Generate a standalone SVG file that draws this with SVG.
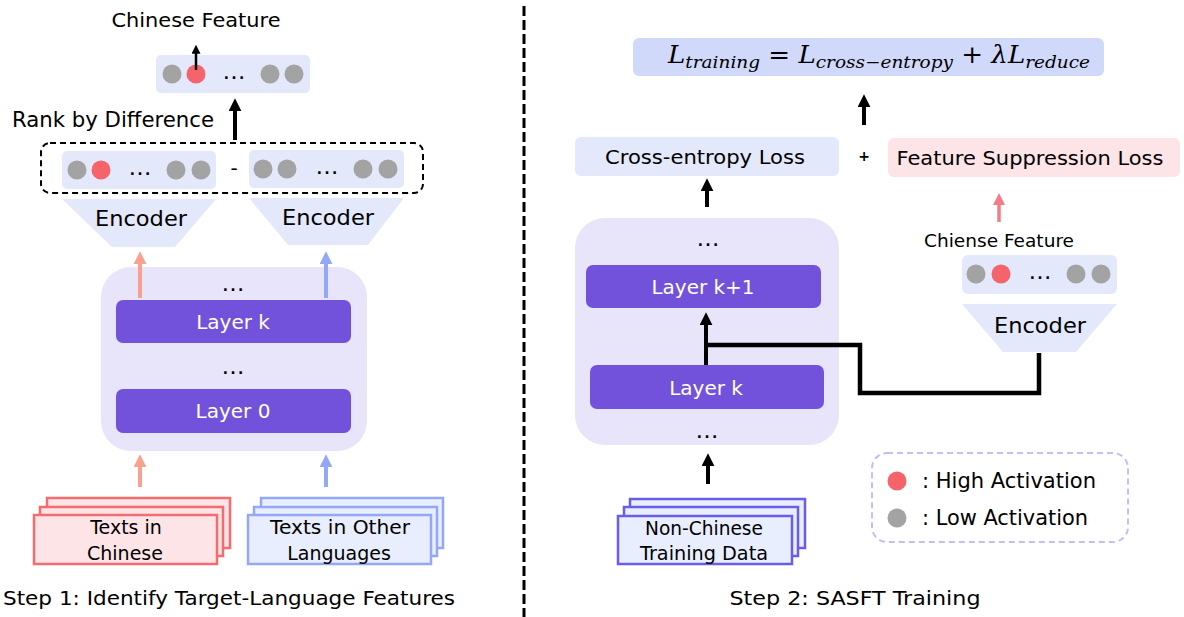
<svg xmlns="http://www.w3.org/2000/svg" width="1184" height="617" viewBox="0 0 1184 617">
<defs>
<style>
.t{font-family:"DejaVu Sans","Liberation Sans",sans-serif;fill:#000;text-anchor:middle;dominant-baseline:central}
.w{fill:#fff}
.feat{fill:#E3E8FB}
.layer{fill:#7352DB}
.cont{fill:#E8E4FA}
.g{fill:#A3A3A3}
.r{fill:#F5636B}
.docR{fill:#FDE4E6;stroke:#F26C70;stroke-width:2.5}
.docB{fill:#E8EEFD;stroke:#93A9F7;stroke-width:2.5}
.docV{fill:#E8EEFD;stroke:#6A5EE8;stroke-width:2.5}
.ab{stroke:#000;stroke-width:4;fill:none}
</style>
<marker id="mk" viewBox="0 0 12 12" refX="2" refY="6" markerWidth="13" markerHeight="13" markerUnits="userSpaceOnUse" orient="auto"><path d="M0,0 L12,6 L0,12 z" fill="#000"/></marker>
<marker id="mks" viewBox="0 0 10 10" refX="2" refY="5" markerWidth="9" markerHeight="9" markerUnits="userSpaceOnUse" orient="auto"><path d="M0,0 L10,5 L0,10 z" fill="#000"/></marker>
<marker id="mkr" viewBox="0 0 12 12" refX="2" refY="6" markerWidth="13" markerHeight="13" markerUnits="userSpaceOnUse" orient="auto"><path d="M0,0 L12,6 L0,12 z" fill="#F9A190"/></marker>
<marker id="mkb" viewBox="0 0 12 12" refX="2" refY="6" markerWidth="13" markerHeight="13" markerUnits="userSpaceOnUse" orient="auto"><path d="M0,0 L12,6 L0,12 z" fill="#93A9F7"/></marker>
<marker id="mkp" viewBox="0 0 12 12" refX="2" refY="6" markerWidth="12" markerHeight="12" markerUnits="userSpaceOnUse" orient="auto"><path d="M0,0 L12,6 L0,12 z" fill="#F47C84"/></marker>
</defs>
<rect width="1184" height="617" fill="#fff"/>

<!-- divider -->
<line x1="524" y1="6" x2="524" y2="617" stroke="#000" stroke-width="3" stroke-dasharray="10 4"/>

<!-- LEFT: Step 1 -->
<text class="t" x="196" y="20" font-size="19" textLength="169" lengthAdjust="spacingAndGlyphs">Chinese Feature</text>

<g id="feat-top">
<rect class="feat" x="156" y="55" width="154" height="38" rx="5"/>
<circle class="g" cx="172" cy="74" r="9.5"/>
<circle class="r" cx="196" cy="74" r="9.5"/>
<text class="t" x="234" y="71" font-size="23">…</text>
<circle class="g" cx="270" cy="74" r="9.5"/>
<circle class="g" cx="294" cy="74" r="9.5"/>
</g>

<text class="t" x="113" y="120" font-size="21" textLength="202" lengthAdjust="spacingAndGlyphs">Rank by Difference</text>

<g id="diff-group">
<rect x="41" y="143" width="382" height="50" rx="9" fill="none" stroke="#000" stroke-width="2" stroke-dasharray="6 4"/>
<rect class="feat" x="62" y="151" width="154" height="38" rx="5"/>
<circle class="g" cx="77" cy="170" r="9.5"/>
<circle class="r" cx="101" cy="170" r="9.5"/>
<text class="t" x="140" y="167" font-size="23">…</text>
<circle class="g" cx="176" cy="170" r="9.5"/>
<circle class="g" cx="201" cy="170" r="9.5"/>
<text class="t" x="234" y="168" font-size="20">-</text>
<rect class="feat" x="249" y="150" width="155" height="38" rx="5"/>
<circle class="g" cx="263" cy="169" r="9.5"/>
<circle class="g" cx="287" cy="169" r="9.5"/>
<text class="t" x="327" y="166" font-size="23">…</text>
<circle class="g" cx="363" cy="169" r="9.5"/>
<circle class="g" cx="388" cy="169" r="9.5"/>
</g>

<g id="encoder-left">
<polygon class="feat" points="62,199 216,199 175,247 112,247"/>
<text class="t" x="141" y="218" font-size="22" textLength="92" lengthAdjust="spacingAndGlyphs">Encoder</text>
</g>
<g id="encoder-right">
<polygon class="feat" points="249,198 404,198 368,245 288,245"/>
<text class="t" x="328" y="217" font-size="22" textLength="92" lengthAdjust="spacingAndGlyphs">Encoder</text>
</g>

<g id="model-left">
<rect class="cont" x="101" y="267" width="266" height="184" rx="30"/>
<text class="t" x="233" y="283" font-size="23">…</text>
<rect class="layer" x="116" y="300" width="235" height="43" rx="7"/>
<text class="t w" x="233" y="322" font-size="20">Layer k</text>
<text class="t" x="233" y="366" font-size="23">…</text>
<rect class="layer" x="116" y="389" width="235" height="44" rx="7"/>
<text class="t w" x="233" y="411" font-size="20">Layer 0</text>
</g>

<g id="doc-chinese">
<rect class="docR" x="47" y="498" width="183" height="50"/>
<rect class="docR" x="40" y="507" width="183" height="49"/>
<rect class="docR" x="34" y="515" width="183" height="49"/>
<text class="t" x="126" y="527" font-size="19">Texts in</text>
<text class="t" x="125" y="553" font-size="19">Chinese</text>
</g>
<g id="doc-other">
<rect class="docB" x="261" y="498" width="182" height="50"/>
<rect class="docB" x="254" y="507" width="183" height="49"/>
<rect class="docB" x="248" y="515" width="183" height="49"/>
<text class="t" x="340" y="527" font-size="19" textLength="140" lengthAdjust="spacingAndGlyphs">Texts in Other</text>
<text class="t" x="339" y="553" font-size="19">Languages</text>
</g>

<text class="t" x="229" y="598" font-size="20" textLength="452" lengthAdjust="spacingAndGlyphs">Step 1: Identify Target-Language Features</text>

<!-- RIGHT: Step 2 -->
<g id="formula">
<rect x="633" y="38" width="471" height="38" rx="6" fill="#D0D9FA"/>
<text x="668" y="63" font-family="'DejaVu Serif','Liberation Serif',serif" font-style="italic" font-size="24" textLength="422" lengthAdjust="spacingAndGlyphs">L<tspan font-size="17" dy="5">training</tspan><tspan font-style="normal" dy="-5"> = </tspan>L<tspan font-size="17" dy="5">cross−entropy</tspan><tspan font-style="normal" dy="-5"> + </tspan>λL<tspan font-size="17" dy="5">reduce</tspan></text>
</g>

<g id="ce-loss">
<rect class="feat" x="575" y="137" width="264" height="39" rx="6"/>
<text class="t" x="705" y="157" font-size="20" textLength="200" lengthAdjust="spacingAndGlyphs">Cross-entropy Loss</text>
</g>
<text class="t" x="864" y="156" font-size="14" font-weight="bold">+</text>
<g id="fs-loss">
<rect x="888" y="138" width="292" height="39" rx="6" fill="#FDE4E6"/>
<text class="t" x="1030" y="158" font-size="20" textLength="267" lengthAdjust="spacingAndGlyphs">Feature Suppression Loss</text>
</g>

<g id="model-right">
<rect class="cont" x="575" y="218" width="264" height="227" rx="30"/>
<text class="t" x="708" y="238" font-size="23">…</text>
<rect class="layer" x="586" y="265" width="235" height="43" rx="7"/>
<text class="t w" x="703" y="287" font-size="20">Layer k+1</text>
<rect class="layer" x="590" y="365" width="234" height="44" rx="7"/>
<text class="t w" x="706" y="388" font-size="20">Layer k</text>
<text class="t" x="707" y="430" font-size="23">…</text>
</g>

<text class="t" x="999" y="240" font-size="18" textLength="150" lengthAdjust="spacingAndGlyphs">Chiense Feature</text>
<g id="feat-right">
<rect class="feat" x="962" y="255" width="155" height="39" rx="6"/>
<circle class="g" cx="976" cy="274" r="9.5"/>
<circle class="r" cx="1001" cy="274" r="9.5"/>
<text class="t" x="1040" y="271" font-size="23">…</text>
<circle class="g" cx="1076" cy="274" r="9.5"/>
<circle class="g" cx="1101" cy="274" r="9.5"/>
</g>
<g id="encoder-r">
<polygon class="feat" points="962,304 1117,304 1076,352 1003,352"/>
<text class="t" x="1040" y="325" font-size="22" textLength="92" lengthAdjust="spacingAndGlyphs">Encoder</text>
</g>

<g id="doc-nonchinese">
<rect class="docV" x="630" y="499" width="175" height="49"/>
<rect class="docV" x="624" y="507" width="174" height="49"/>
<rect class="docV" x="618" y="516" width="174" height="48"/>
<text class="t" x="704" y="528" font-size="19" textLength="118" lengthAdjust="spacingAndGlyphs">Non-Chinese</text>
<text class="t" x="704" y="553" font-size="19" textLength="128" lengthAdjust="spacingAndGlyphs">Training Data</text>
</g>

<g id="legend">
<rect x="872" y="453" width="256" height="89" rx="15" fill="none" stroke="#C5BEF5" stroke-width="2" stroke-dasharray="6 4"/>
<circle class="r" cx="897" cy="481" r="9.5"/>
<text x="922" y="481" class="t" style="text-anchor:start" font-size="21" textLength="174" lengthAdjust="spacingAndGlyphs">: High Activation</text>
<circle class="g" cx="897" cy="518" r="9.5"/>
<text x="922" y="518" class="t" style="text-anchor:start" font-size="21" textLength="166" lengthAdjust="spacingAndGlyphs">: Low Activation</text>
</g>

<text class="t" x="855" y="598" font-size="20" textLength="251" lengthAdjust="spacingAndGlyphs">Step 2: SASFT Training</text>

<!-- connectors -->
<g id="connectors" fill="none">
<path d="M196,70 V52" stroke="#000" stroke-width="2.5" marker-end="url(#mks)"/>
<path d="M235,140 V109" class="ab" marker-end="url(#mk)"/>
<path d="M140,298 V262" stroke="#F9A190" stroke-width="4" marker-end="url(#mkr)"/>
<path d="M326,298 V262" stroke="#93A9F7" stroke-width="4" marker-end="url(#mkb)"/>
<path d="M140,487 V465" stroke="#F9A190" stroke-width="4" marker-end="url(#mkr)"/>
<path d="M326,487 V465" stroke="#93A9F7" stroke-width="4" marker-end="url(#mkb)"/>
<path d="M864,125 V105" class="ab" marker-end="url(#mk)"/>
<path d="M707,207 V189" class="ab" marker-end="url(#mk)"/>
<path d="M999,222 V203" stroke="#F47C84" stroke-width="3.5" marker-end="url(#mkp)"/>
<path d="M706,365 V323" class="ab" marker-end="url(#mk)"/>
<path d="M1039,353 V393 H860 V345 H706" stroke="#000" stroke-width="4.5"/>
<path d="M708,484 V464" class="ab" marker-end="url(#mk)"/>
</g>
</svg>
